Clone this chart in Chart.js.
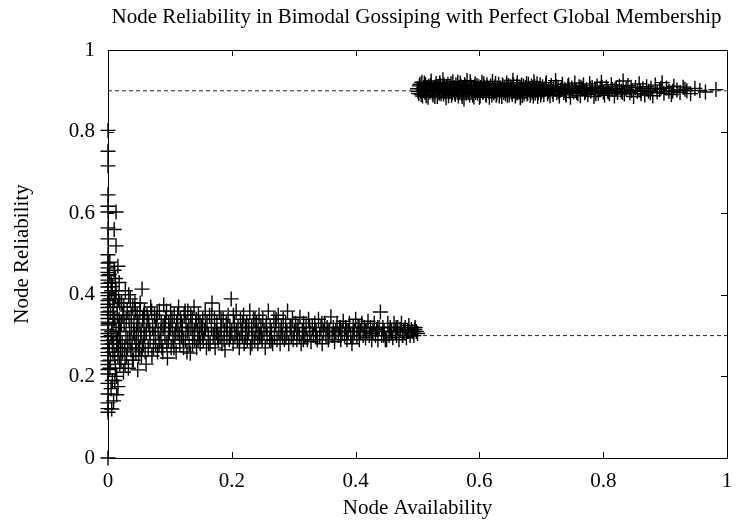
<!DOCTYPE html>
<html>
<head>
<meta charset="utf-8">
<title>Node Reliability in Bimodal Gossiping</title>
<script src="https://cdn.jsdelivr.net/npm/chart.js@4.4.0/dist/chart.umd.min.js"></script>
<style>
  html, body { margin: 0; padding: 0; background: #fff; }
  #wrap { width: 736px; height: 525px; }
</style>
</head>
<body>
<div id="wrap"><canvas id="reliabilityChart" width="736" height="525"></canvas></div>
<script>
// Chart title and axis ticks
const chartTitle = 'Node Reliability in Bimodal Gossiping with Perfect Global Membership';
const xTicks = [0, 0.2, 0.4, 0.6, 0.8, 1];
const yTicks = [0, 0.2, 0.4, 0.6, 0.8, 1];

// Dashed reference levels (the two modes)
const refLevels = [0.3, 0.9];

// Nodes with availability 0 (reliability values only)
const zeroColumnY = [0.803, 0.752, 0.716, 0.645, 0.617, 0.603, 0.564, 0.537, 0.498, 0.478, 0.466, 0.455,
  0.447, 0.436, 0.428, 0.419, 0.405, 0.398, 0.386, 0.377, 0.369, 0.358, 0.351, 0.342, 0.333, 0.326, 0.314,
  0.305, 0.297, 0.288, 0.279, 0.268, 0.259, 0.251, 0.238, 0.229, 0.217, 0.206, 0.183, 0.157, 0.135, 0.121,
  0.112, 0];

// Nodes just right of the axis, wide spread
const nearAxis = [
  [0.002,0.45],[0.003,0.22],[0.004,0.36],[0.005,0.17],[0.006,0.41],[0.007,0.28],[0.008,0.33],[0.009,0.14],
  [0.010,0.56],[0.010,0.39],[0.011,0.25],[0.012,0.44],[0.013,0.603],[0.013,0.52],[0.013,0.31],[0.014,0.20],
  [0.015,0.37],[0.016,0.47],[0.016,0.175],[0.017,0.27],[0.018,0.43],[0.018,0.34],[0.019,0.23],[0.005,0.30],
  [0.008,0.26],[0.011,0.19],[0.015,0.29],[0.003,0.48],[0.006,0.12],[0.009,0.35],[0.012,0.40],[0.017,0.32],
  [0.019,0.38],[0.007,0.42],[0.014,0.155],
  [0.001,0.33],[0.002,0.27],[0.003,0.39],[0.004,0.24],[0.005,0.43],[0.006,0.31],[0.007,0.19],[0.008,0.37],
  [0.009,0.29],[0.010,0.46],[0.011,0.34],[0.012,0.22],[0.013,0.41],[0.014,0.28],[0.015,0.35],[0.016,0.25],
  [0.017,0.39],[0.018,0.30],[0.019,0.33],[0.020,0.27]
];

// Low mode: availability below 0.5
const lowBand = [
  [0.020,0.31],[0.021,0.24],[0.022,0.38],[0.023,0.28],[0.024,0.35],[0.025,0.21],[0.026,0.33],[0.027,0.27],
  [0.028,0.41],[0.029,0.30],[0.030,0.25],[0.031,0.36],[0.032,0.29],[0.033,0.22],[0.034,0.34],[0.035,0.31],
  [0.036,0.39],[0.037,0.265],[0.038,0.32],[0.039,0.28],[0.040,0.37],[0.041,0.24],[0.042,0.33],[0.043,0.30],
  [0.044,0.36],[0.045,0.26],[0.046,0.31],[0.047,0.35],[0.048,0.216],[0.049,0.29],[0.050,0.33],[0.051,0.27],
  [0.052,0.38],[0.053,0.30],[0.054,0.25],[0.055,0.414],[0.056,0.34],[0.057,0.28],[0.058,0.32],[0.059,0.36],
  [0.060,0.26],
  [0.062,0.31],[0.063,0.35],[0.065,0.27],[0.066,0.33],[0.068,0.29],[0.069,0.37],[0.071,0.25],[0.072,0.32],
  [0.074,0.30],[0.075,0.35],[0.077,0.28],[0.078,0.34],[0.080,0.26],[0.081,0.31],[0.083,0.36],[0.084,0.29],
  [0.086,0.33],[0.087,0.27],[0.089,0.32],[0.090,0.375],[0.092,0.30],[0.093,0.34],[0.095,0.28],[0.096,0.245],
  [0.098,0.33],[0.099,0.31],[0.101,0.36],[0.102,0.27],[0.104,0.32],[0.105,0.29],[0.107,0.35],[0.108,0.30],
  [0.110,0.26],[0.111,0.33],[0.113,0.31],[0.114,0.37],[0.116,0.28],[0.117,0.34],[0.119,0.30],[0.120,0.32],
  [0.122,0.27],[0.123,0.35],[0.125,0.29],[0.126,0.33],[0.128,0.31],[0.129,0.36],[0.131,0.28],[0.133,0.257],
  [0.134,0.32],[0.136,0.34],[0.137,0.30],[0.139,0.37],[0.140,0.29],[0.142,0.33],[0.143,0.27],[0.145,0.31],
  [0.146,0.35],[0.148,0.30],[0.149,0.28],
  [0.151,0.32],[0.153,0.34],[0.154,0.29],[0.156,0.31],[0.157,0.36],[0.159,0.27],[0.160,0.33],[0.162,0.30],
  [0.164,0.35],[0.165,0.28],[0.167,0.32],[0.168,0.38],[0.170,0.30],[0.172,0.34],[0.173,0.27],[0.175,0.31],
  [0.176,0.33],[0.178,0.29],[0.180,0.36],[0.181,0.30],[0.183,0.32],[0.184,0.28],[0.186,0.34],[0.188,0.31],
  [0.189,0.265],[0.191,0.33],[0.192,0.30],[0.194,0.35],[0.196,0.29],[0.197,0.32],[0.199,0.39],[0.200,0.31],
  [0.202,0.28],[0.204,0.33],[0.205,0.30],[0.207,0.36],[0.209,0.29],[0.210,0.32],[0.212,0.27],[0.214,0.34],
  [0.215,0.31],[0.217,0.30],[0.219,0.35],[0.220,0.28],[0.222,0.32],[0.224,0.33],[0.225,0.29],[0.227,0.31],
  [0.229,0.36],[0.230,0.27],[0.232,0.32],[0.234,0.30],[0.235,0.34],[0.237,0.29],[0.239,0.31],[0.240,0.33],
  [0.242,0.28],[0.244,0.35],[0.245,0.30],[0.247,0.32],[0.249,0.29],[0.250,0.34],[0.252,0.31],[0.254,0.27],
  [0.256,0.33],[0.257,0.30],[0.259,0.36],[0.261,0.29],[0.262,0.32],[0.264,0.31],[0.266,0.28],[0.268,0.34],
  [0.269,0.30],[0.271,0.33],[0.273,0.29],[0.275,0.35],[0.276,0.31],[0.278,0.28],[0.280,0.32],[0.282,0.30],
  [0.283,0.34],[0.285,0.29],[0.287,0.33],[0.289,0.31],[0.290,0.36],[0.292,0.28],[0.294,0.32],[0.296,0.30],
  [0.298,0.34],[0.299,0.29],
  [0.301,0.31],[0.303,0.33],[0.305,0.29],[0.307,0.32],[0.309,0.30],[0.310,0.345],[0.312,0.28],[0.314,0.31],
  [0.316,0.33],[0.318,0.30],[0.320,0.32],[0.322,0.29],[0.324,0.34],[0.326,0.31],[0.328,0.285],[0.330,0.32],
  [0.332,0.30],[0.334,0.33],[0.336,0.31],[0.338,0.29],[0.340,0.34],[0.342,0.30],[0.344,0.32],[0.346,0.28],
  [0.348,0.31],[0.350,0.33],[0.352,0.30],[0.354,0.32],[0.356,0.29],[0.358,0.31],[0.360,0.346],[0.362,0.30],
  [0.364,0.32],[0.366,0.285],[0.368,0.31],[0.370,0.33],[0.372,0.30],[0.374,0.32],[0.376,0.29],[0.378,0.31],
  [0.380,0.335],[0.382,0.30],[0.384,0.32],[0.386,0.29],[0.388,0.31],[0.390,0.33],[0.392,0.30],[0.394,0.28],
  [0.396,0.32],[0.398,0.31],[0.400,0.34],[0.402,0.30],[0.404,0.32],[0.406,0.29],[0.408,0.31],[0.410,0.33],
  [0.412,0.30],[0.414,0.32],[0.416,0.295],[0.418,0.31],[0.420,0.335],[0.422,0.30],[0.424,0.32],[0.426,0.29],
  [0.428,0.31],[0.430,0.33],[0.432,0.30],[0.434,0.315],[0.436,0.29],[0.438,0.32],[0.440,0.358],[0.442,0.30],
  [0.444,0.32],[0.446,0.31],[0.448,0.29],[0.450,0.29],[0.452,0.33],[0.454,0.30],[0.456,0.32],[0.458,0.31],
  [0.460,0.295],[0.462,0.33],[0.464,0.31],[0.466,0.30],[0.468,0.32],[0.470,0.29],[0.472,0.315],[0.474,0.33],
  [0.476,0.30],[0.478,0.31],[0.480,0.32],[0.482,0.295],[0.484,0.31],[0.486,0.325],[0.488,0.30],[0.490,0.315],
  [0.492,0.31],[0.494,0.30],[0.496,0.32],[0.498,0.31],[0.500,0.305],
  [0.0215,0.33],[0.0235,0.26],[0.0255,0.37],[0.0275,0.23],[0.0295,0.34],[0.0315,0.27],[0.0335,0.40],[0.0355,0.29],
  [0.0375,0.35],[0.0395,0.24],[0.0415,0.31],[0.0435,0.38],[0.0455,0.28],[0.0475,0.33],[0.0495,0.25],[0.0515,0.36],
  [0.0535,0.31],[0.0555,0.27],[0.0575,0.35],[0.0595,0.30],[0.0615,0.23],[0.0645,0.34],[0.0675,0.31],[0.0705,0.36],
  [0.0735,0.27],[0.0765,0.32],[0.0795,0.35],[0.0825,0.28],[0.0855,0.31],[0.0885,0.26],[0.0915,0.33],[0.0945,0.36],
  [0.0975,0.29],[0.1005,0.32],[0.1035,0.34],[0.1065,0.27],[0.1095,0.31],[0.1125,0.35],[0.1155,0.30],[0.1185,0.33],
  [0.1215,0.29],[0.1245,0.36],[0.1275,0.26],[0.1305,0.32],[0.1335,0.35],[0.1365,0.28],[0.1395,0.31],[0.1425,0.34],
  [0.1455,0.29],[0.1485,0.33],[0.1525,0.30],[0.1575,0.32],[0.1625,0.28],[0.1675,0.35],[0.1725,0.31],[0.1775,0.30],
  [0.1825,0.34],[0.1875,0.29],[0.1925,0.32],[0.1975,0.30],[0.2025,0.35],[0.2075,0.31],[0.2125,0.29],[0.2175,0.33],
  [0.2225,0.30],[0.2275,0.32],[0.2325,0.28],[0.2375,0.34],[0.2425,0.31],[0.2475,0.30],[0.2555,0.32],[0.2635,0.29],
  [0.2715,0.34],[0.2795,0.31],[0.2875,0.30],[0.2955,0.32],[0.3055,0.31],[0.3155,0.29],[0.3255,0.32],[0.3355,0.30],
  [0.3455,0.33],[0.3555,0.31],[0.3655,0.30],[0.3755,0.32],[0.3855,0.31],[0.3955,0.30],[0.4055,0.32],[0.4155,0.31],
  [0.4255,0.305],[0.4355,0.32],[0.4455,0.30],[0.4555,0.31],[0.4655,0.32],[0.4755,0.30],[0.4855,0.31],[0.4955,0.315]
];

// High mode: availability 0.5 and above
const highBand = [
  [0.500,0.905],[0.502,0.893],[0.503,0.912],[0.505,0.899],[0.507,0.921],[0.508,0.887],[0.510,0.908],[0.512,0.896],
  [0.513,0.915],[0.515,0.902],[0.517,0.884],[0.518,0.911],[0.520,0.897],[0.522,0.924],[0.523,0.905],[0.525,0.890],
  [0.527,0.909],[0.529,0.899],[0.530,0.918],[0.532,0.886],[0.534,0.906],[0.535,0.894],[0.537,0.913],[0.539,0.901],
  [0.541,0.927],[0.542,0.892],[0.544,0.908],[0.546,0.883],[0.548,0.904],[0.549,0.916],[0.551,0.897],[0.553,0.910],
  [0.555,0.889],[0.557,0.922],[0.558,0.903],[0.560,0.895],[0.562,0.914],[0.564,0.900],[0.566,0.887],[0.567,0.908],
  [0.569,0.919],[0.571,0.893],[0.573,0.905],[0.575,0.880],[0.577,0.911],[0.578,0.898],[0.580,0.925],[0.582,0.902],
  [0.584,0.890],[0.586,0.913],[0.588,0.896],[0.590,0.907],[0.591,0.885],[0.593,0.917],[0.595,0.901],[0.597,0.894],
  [0.599,0.910],[0.601,0.888],[0.603,0.904],[0.604,0.921],[0.606,0.897],[0.608,0.909],[0.610,0.892],[0.612,0.915],
  [0.614,0.903],[0.616,0.884],[0.617,0.906],[0.619,0.899],[0.621,0.923],[0.623,0.895],[0.625,0.910],[0.627,0.889],
  [0.629,0.904],[0.631,0.916],[0.633,0.898],[0.634,0.907],[0.636,0.886],[0.638,0.912],[0.640,0.900],[0.642,0.893],
  [0.644,0.919],[0.646,0.905],[0.648,0.890],[0.650,0.909],[0.652,0.897],[0.654,0.926],[0.656,0.902],[0.658,0.887],
  [0.660,0.911],[0.662,0.895],[0.664,0.906],[0.666,0.883],[0.668,0.914],[0.670,0.901],[0.672,0.892],[0.674,0.908],
  [0.676,0.918],[0.678,0.896],[0.680,0.904],[0.682,0.889],[0.684,0.912],[0.686,0.899],[0.688,0.922],[0.690,0.894],
  [0.692,0.907],[0.694,0.886],[0.696,0.903],[0.698,0.915],[0.700,0.897],[0.702,0.910],[0.704,0.891],[0.706,0.905],
  [0.708,0.920],[0.710,0.893],[0.712,0.901],[0.714,0.888],[0.716,0.913],[0.718,0.898],[0.720,0.906],[0.723,0.925],
  [0.725,0.895],[0.727,0.909],[0.729,0.887],[0.731,0.902],[0.734,0.916],[0.736,0.896],[0.738,0.904],[0.740,0.890],
  [0.743,0.911],[0.745,0.899],[0.747,0.884],[0.749,0.907],[0.752,0.897],[0.754,0.919],[0.756,0.901],[0.759,0.893],
  [0.761,0.910],[0.763,0.888],[0.766,0.905],[0.768,0.914],[0.770,0.895],[0.773,0.903],[0.775,0.891],[0.778,0.917],
  [0.780,0.899],[0.782,0.908],[0.785,0.886],[0.787,0.902],[0.790,0.912],[0.792,0.894],[0.795,0.906],[0.797,0.921],
  [0.800,0.897],[0.802,0.889],[0.805,0.909],[0.807,0.900],[0.810,0.893],[0.813,0.915],[0.815,0.903],[0.818,0.887],
  [0.821,0.906],[0.823,0.896],[0.826,0.911],[0.829,0.899],[0.832,0.924],[0.834,0.892],[0.837,0.904],[0.840,0.913],
  [0.843,0.895],[0.846,0.901],[0.849,0.886],[0.852,0.908],[0.855,0.898],[0.858,0.917],[0.861,0.893],[0.864,0.905],
  [0.867,0.890],[0.870,0.910],[0.873,0.899],[0.877,0.906],[0.880,0.888],[0.884,0.914],[0.887,0.897],[0.891,0.903],
  [0.895,0.920],[0.898,0.894],[0.902,0.907],[0.906,0.899],[0.910,0.891],[0.914,0.911],[0.919,0.902],[0.924,0.896],
  [0.929,0.909],[0.935,0.900],[0.941,0.893],[0.948,0.906],[0.956,0.901],[0.965,0.897],[0.982,0.903],
  [0.501,0.898],[0.504,0.916],[0.506,0.891],[0.509,0.904],[0.511,0.919],[0.514,0.888],[0.516,0.907],[0.519,0.900],
  [0.521,0.913],[0.524,0.895],[0.526,0.904],[0.528,0.886],[0.531,0.910],[0.533,0.899],[0.536,0.920],[0.538,0.893],
  [0.540,0.906],[0.543,0.914],[0.545,0.897],[0.547,0.909],[0.550,0.888],[0.552,0.903],[0.554,0.917],[0.556,0.896],
  [0.559,0.908],[0.561,0.891],[0.563,0.905],[0.565,0.921],[0.568,0.899],[0.570,0.911],[0.572,0.886],[0.574,0.902],
  [0.576,0.915],[0.579,0.894],[0.581,0.908],[0.583,0.899],[0.585,0.922],[0.587,0.903],[0.589,0.890],[0.592,0.910],
  [0.594,0.896],[0.596,0.913],[0.598,0.901],[0.600,0.884],[0.602,0.908],[0.605,0.897],[0.607,0.917],[0.609,0.903],
  [0.611,0.889],[0.613,0.909],[0.615,0.898],[0.618,0.912],[0.620,0.890],[0.622,0.905],[0.624,0.899],[0.626,0.918],
  [0.628,0.893],[0.630,0.907],[0.632,0.887],[0.635,0.903],[0.637,0.914],[0.639,0.896],[0.641,0.909],[0.643,0.901],
  [0.645,0.889],[0.647,0.913],[0.649,0.898],[0.651,0.906],[0.653,0.891],[0.655,0.915],[0.657,0.900],[0.659,0.894],
  [0.661,0.920],[0.663,0.903],[0.665,0.897],[0.667,0.909],[0.669,0.888],[0.671,0.912],[0.673,0.899],[0.675,0.905],
  [0.677,0.892],[0.679,0.916],[0.681,0.902],[0.683,0.895],[0.685,0.908],[0.687,0.887],[0.689,0.911],[0.691,0.900],
  [0.693,0.917],[0.695,0.896],[0.697,0.906],[0.699,0.890],[0.703,0.902],[0.707,0.914],[0.711,0.898],[0.715,0.906],
  [0.719,0.891],[0.724,0.910],[0.728,0.899],[0.733,0.905],[0.739,0.893],[0.744,0.914],[0.750,0.902],[0.757,0.896],
  [0.764,0.909],[0.771,0.899],[0.779,0.905],[0.788,0.893],[0.798,0.908],[0.808,0.897],[0.819,0.904],[0.831,0.896],
  [0.845,0.909],[0.860,0.900],[0.876,0.895],[0.893,0.906],[0.912,0.899],[0.932,0.904]
];

const FONT = "'Liberation Serif', 'Times New Roman', serif";
const toPts = arr => arr.map(p => ({ x: p[0], y: p[1] }));

// Build the scatter points (one dataset, gnuplot style "+" marks)
const nodePoints = zeroColumnY.map(y => ({ x: 0, y: y }))
  .concat(toPts(nearAxis), toPts(lowBand), toPts(highBand));

// Dashed reference lines across the full x range
const refDatasets = refLevels.map(level => ({
  type: 'line',
  data: [{ x: xTicks[0], y: level }, { x: xTicks[xTicks.length - 1], y: level }],
  borderColor: '#222',
  borderWidth: 1,
  borderDash: [4, 3],
  pointRadius: 0,
  fill: false,
  order: 2
}));

// Frame with inward ticks on all four sides, plus the title centred over the plot
const framePlugin = {
  id: 'frame',
  afterDatasetsDraw(chart) {
    const { ctx, chartArea: a, scales } = chart;
    const tl = 6;
    ctx.save();
    ctx.strokeStyle = '#000';
    ctx.lineWidth = 1;
    ctx.beginPath();
    xTicks.forEach(v => {
      const px = Math.round(scales.x.getPixelForValue(v)) + 0.5;
      ctx.moveTo(px, a.bottom); ctx.lineTo(px, a.bottom - tl);
      ctx.moveTo(px, a.top); ctx.lineTo(px, a.top + tl);
    });
    yTicks.forEach(v => {
      const py = Math.round(scales.y.getPixelForValue(v)) + 0.5;
      ctx.moveTo(a.left, py); ctx.lineTo(a.left + tl, py);
      ctx.moveTo(a.right, py); ctx.lineTo(a.right - tl, py);
    });
    ctx.stroke();
    ctx.strokeRect(Math.round(a.left) + 0.5, Math.round(a.top) + 0.5,
      Math.round(a.right - a.left), Math.round(a.bottom - a.top));

    // title
    ctx.fillStyle = '#000';
    ctx.font = '21px ' + FONT;
    ctx.textAlign = 'center';
    ctx.textBaseline = 'alphabetic';
    ctx.fillText(chartTitle, (a.left + a.right) / 2 - 1, 23);
    ctx.restore();
  }
};

new Chart(document.getElementById('reliabilityChart').getContext('2d'), {
  type: 'scatter',
  data: {
    datasets: [{
      label: 'Nodes',
      data: nodePoints,
      pointStyle: 'cross',
      pointRadius: 7.5,
      pointHoverRadius: 7.5,
      borderColor: '#000',
      backgroundColor: '#000',
      borderWidth: 1.4,
      clip: false,
      order: 1
    }].concat(refDatasets)
  },
  options: {
    responsive: false,
    animation: false,
    layout: { padding: { left: 0, right: 5, top: 50, bottom: 0 } },
    plugins: {
      legend: { display: false },
      tooltip: { enabled: false },
      title: { display: false }
    },
    scales: {
      x: {
        type: 'linear',
        min: 0,
        max: 1,
        afterBuildTicks: s => { s.ticks = xTicks.map(v => ({ value: v })); },
        afterFit: s => { s.height = 67; s.paddingLeft = 0; s.paddingRight = 0; },
        grid: { display: false },
        border: { display: false },
        ticks: {
          color: '#000',
          font: { family: FONT, size: 21 },
          padding: 3,
          maxRotation: 0,
          callback: v => String(v)
        },
        title: {
          display: true,
          text: 'Node Availability',
          color: '#000',
          font: { family: FONT, size: 21 },
          padding: { top: 0, bottom: 4 }
        }
      },
      y: {
        type: 'linear',
        min: 0,
        max: 1,
        afterBuildTicks: s => { s.ticks = yTicks.map(v => ({ value: v })); },
        afterFit: s => { s.width = 108; s.paddingTop = 0; s.paddingBottom = 0; },
        grid: { display: false },
        border: { display: false },
        ticks: {
          color: '#000',
          font: { family: FONT, size: 21 },
          padding: 5,
          callback: v => String(v)
        },
        title: {
          display: true,
          text: 'Node Reliability',
          color: '#000',
          font: { family: FONT, size: 21 },
          padding: { top: 10, bottom: 0 }
        }
      }
    }
  },
  plugins: [framePlugin]
});
</script>
</body>
</html>
